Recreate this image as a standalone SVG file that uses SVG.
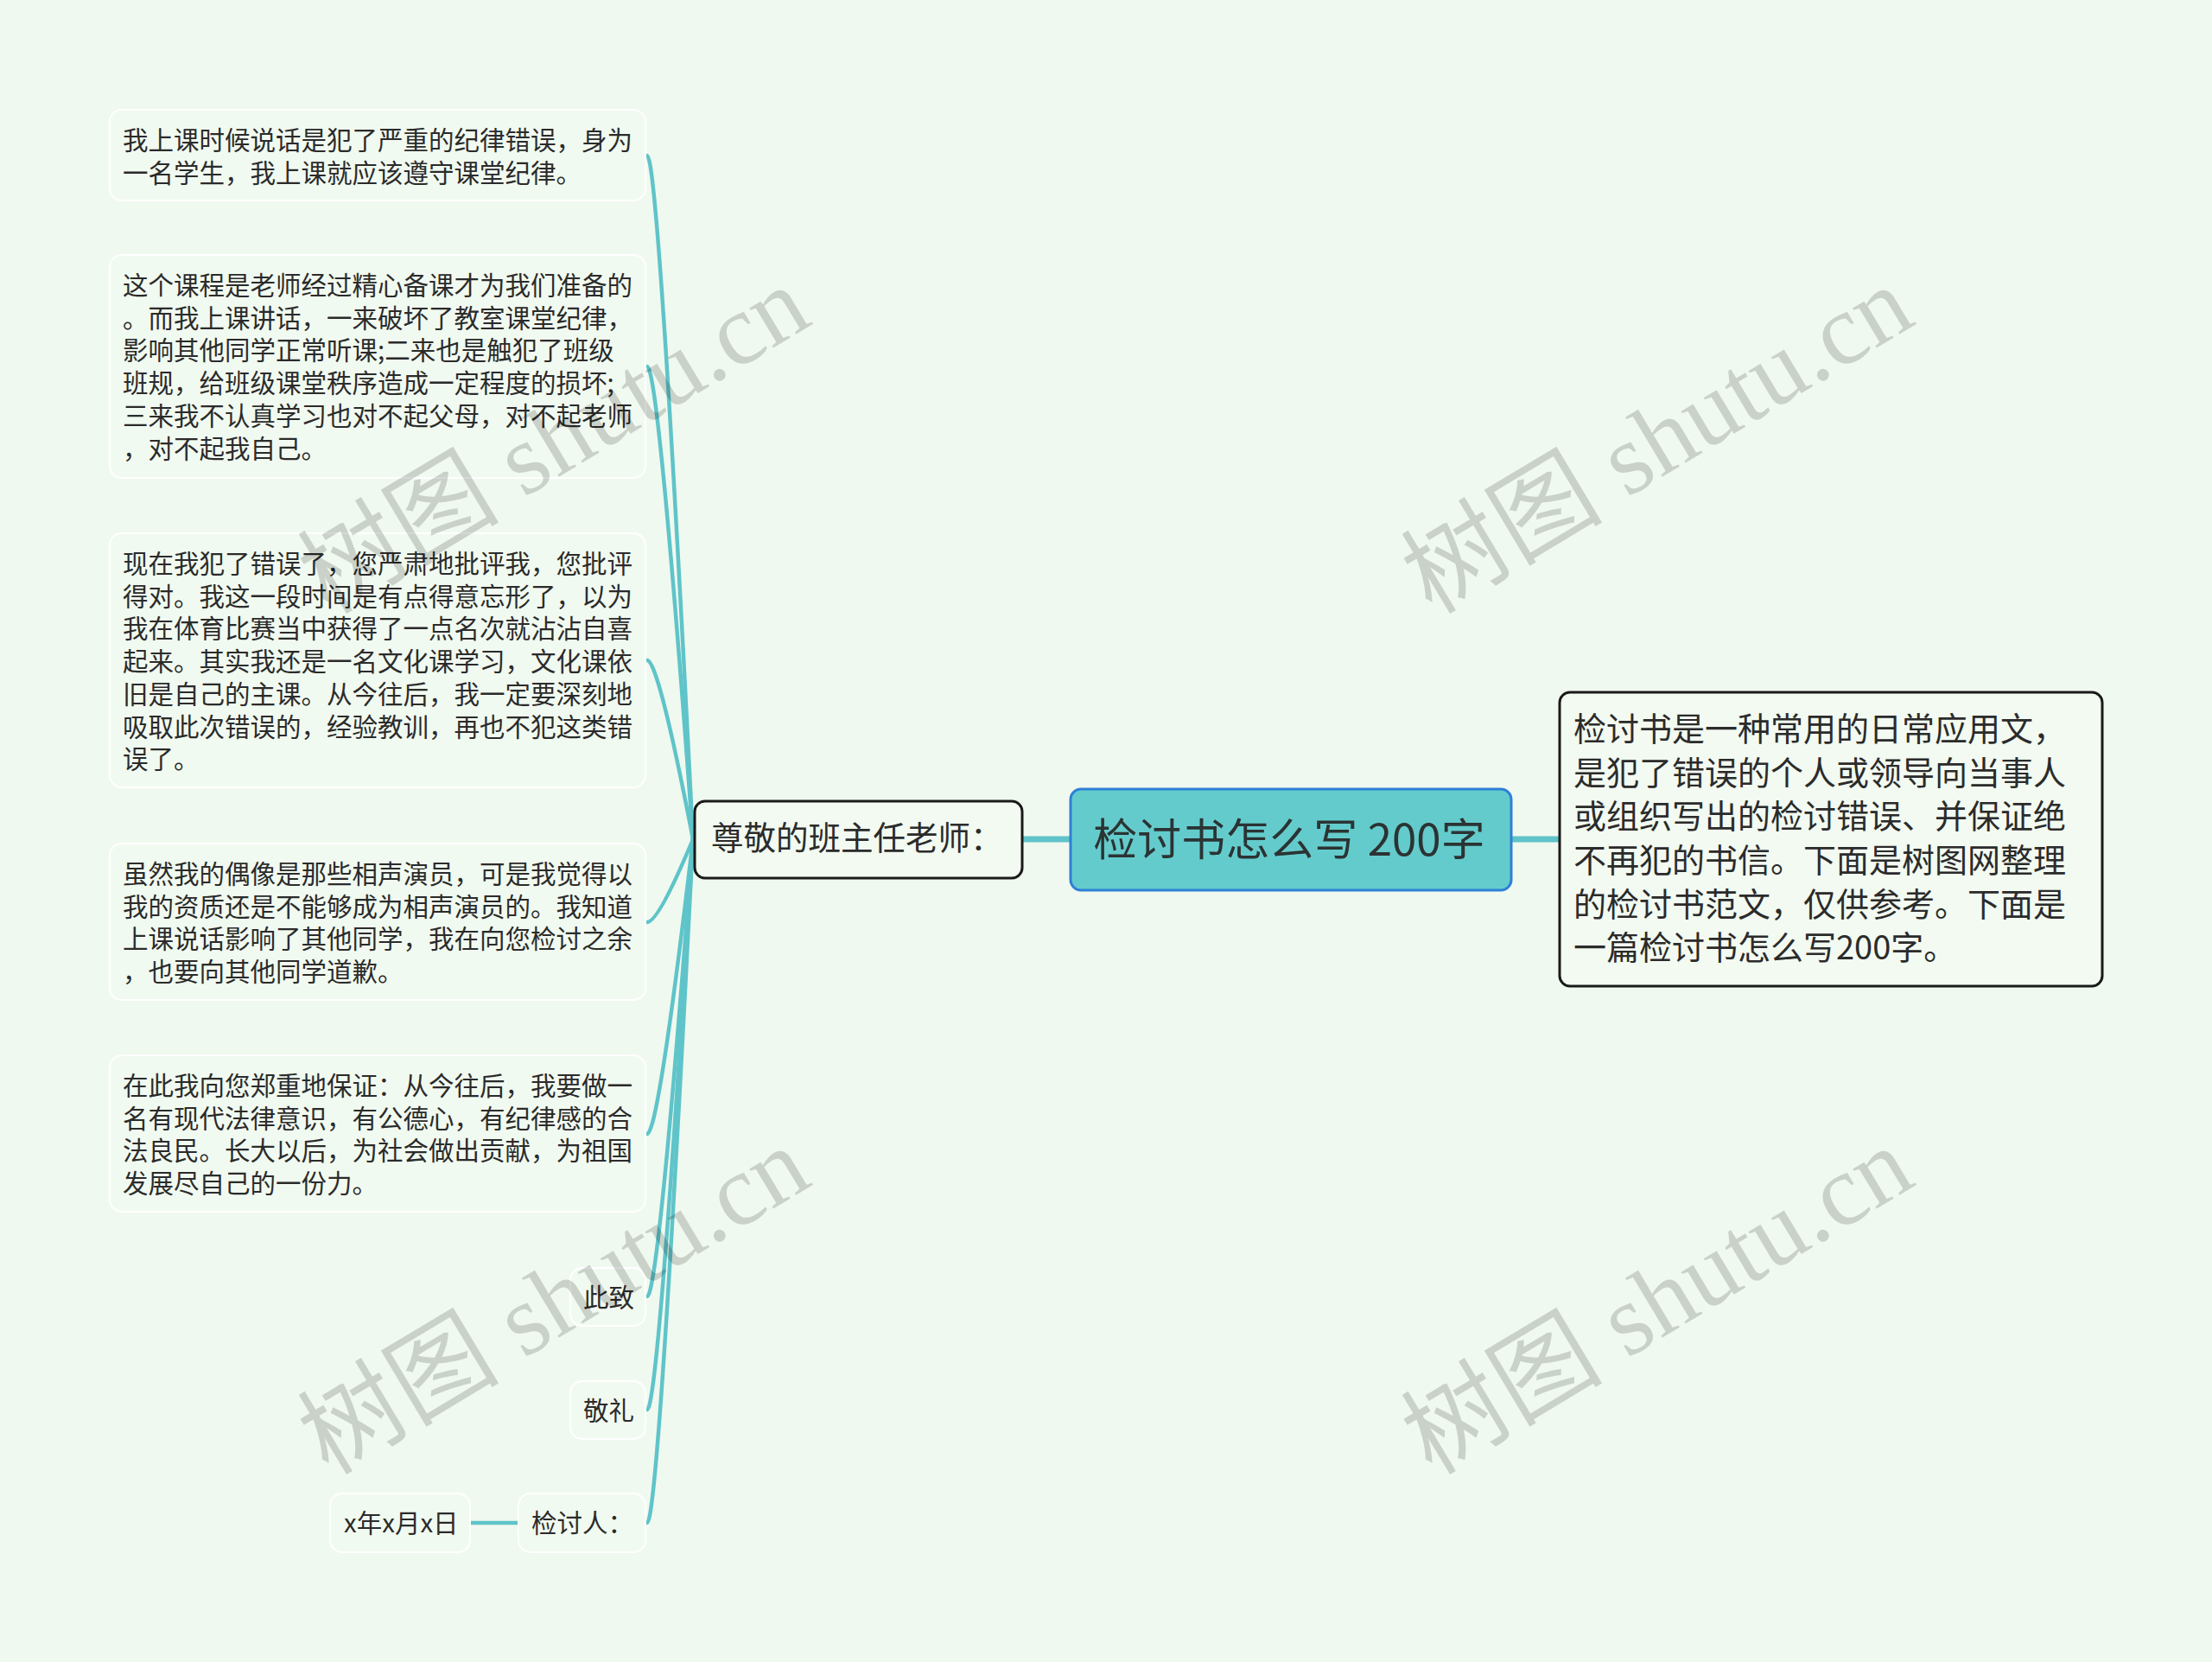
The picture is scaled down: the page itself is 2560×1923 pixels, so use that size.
<svg xmlns="http://www.w3.org/2000/svg" width="2560" height="1923" viewBox="0 0 2560 1923">
<style>
.leafbox{fill:#f1faf0;stroke:#ffffff;stroke-width:2}
.leaf{font-family:"Noto Sans CJK SC","Noto Sans",sans-serif;font-size:29.5px;fill:#2b2b2b}
.conn{fill:none;stroke:#5fc4c9;stroke-width:4.5;stroke-linecap:round}
.main{fill:none;stroke:#5fc4c9;stroke-width:7}
.wm{font-family:"Liberation Serif","Noto Sans CJK SC",serif;font-size:117px;fill:#000;fill-opacity:0.16}
</style>
<rect x="0" y="0" width="2560" height="1923" fill="#f0f9ef"/>
<g id="connectors">
<line class="main" x1="1183" y1="971" x2="1240" y2="971"/>
<line class="main" x1="1748" y1="971" x2="1806" y2="971"/>
<path class="conn" d="M802 971 Q762 180 749 180"/>
<path class="conn" d="M802 971 Q762 424 749 424"/>
<path class="conn" d="M802 971 Q762 764 749 764"/>
<path class="conn" d="M802 971 Q762 1067 749 1067"/>
<path class="conn" d="M802 971 Q762 1312 749 1312"/>
<path class="conn" d="M802 971 Q762 1500 749 1500"/>
<path class="conn" d="M802 971 Q762 1631 749 1631"/>
<path class="conn" d="M802 971 Q762 1762 749 1762"/>
<line class="conn" x1="544" y1="1762" x2="600" y2="1762" stroke-width="5"/>
</g>
<g id="central">
<rect x="1239" y="913" width="510" height="117" rx="12" fill="#64cbcc" stroke="#2f80d6" stroke-width="3"/>
<text x="1492" y="990" text-anchor="middle" font-family="Noto Sans CJK SC,Noto Sans,sans-serif" font-size="51" fill="#2b3333">检讨书怎么写 200字</text>
</g>
<g id="right">
<rect x="1805" y="801" width="628" height="340" rx="12" fill="#f2faf1" stroke="#1a1a1a" stroke-width="3"/>
<text font-family="Noto Sans CJK SC,Noto Sans,sans-serif" font-size="38" fill="#2b2b2b">
<tspan x="1821" y="857">检讨书是一种常用的日常应用文，</tspan>
<tspan x="1821" y="908">是犯了错误的个人或领导向当事人</tspan>
<tspan x="1821" y="958">或组织写出的检讨错误、并保证绝</tspan>
<tspan x="1821" y="1009">不再犯的书信。下面是树图网整理</tspan>
<tspan x="1821" y="1060">的检讨书范文，仅供参考。下面是</tspan>
<tspan x="1821" y="1110">一篇检讨书怎么写200字。</tspan>
</text>
</g>
<g id="teacher">
<rect x="804" y="927" width="379" height="89" rx="12" fill="#f2faf1" stroke="#1a1a1a" stroke-width="3"/>
<text x="823" y="983" font-family="Noto Sans CJK SC,Noto Sans,sans-serif" font-size="37.5" fill="#2b2b2b">尊敬的班主任老师：</text>
</g>
<g id="leaf1">
<rect class="leafbox" x="127" y="127" width="620" height="105" rx="14"/>
<text class="leaf"><tspan x="142" y="173">我上课时候说话是犯了严重的纪律错误，身为</tspan><tspan x="142" y="210.7">一名学生，我上课就应该遵守课堂纪律。</tspan></text>
</g>
<g id="leaf2">
<rect class="leafbox" x="127" y="295" width="620" height="258" rx="14"/>
<text class="leaf"><tspan x="142" y="341">这个课程是老师经过精心备课才为我们准备的</tspan><tspan x="142" y="378.7">。而我上课讲话，一来破坏了教室课堂纪律，</tspan><tspan x="142" y="416.4">影响其他同学正常听课;二来也是触犯了班级</tspan><tspan x="142" y="454.1">班规，给班级课堂秩序造成一定程度的损坏;</tspan><tspan x="142" y="491.8">三来我不认真学习也对不起父母，对不起老师</tspan><tspan x="142" y="529.5">，对不起我自己。</tspan></text>
</g>
<g id="leaf3">
<rect class="leafbox" x="127" y="617" width="620" height="294" rx="14"/>
<text class="leaf"><tspan x="142" y="663">现在我犯了错误了，您严肃地批评我，您批评</tspan><tspan x="142" y="700.7">得对。我这一段时间是有点得意忘形了，以为</tspan><tspan x="142" y="738.4">我在体育比赛当中获得了一点名次就沾沾自喜</tspan><tspan x="142" y="776.1">起来。其实我还是一名文化课学习，文化课依</tspan><tspan x="142" y="813.8">旧是自己的主课。从今往后，我一定要深刻地</tspan><tspan x="142" y="851.5">吸取此次错误的，经验教训，再也不犯这类错</tspan><tspan x="142" y="889.2">误了。</tspan></text>
</g>
<g id="leaf4">
<rect class="leafbox" x="127" y="976" width="620" height="181" rx="14"/>
<text class="leaf"><tspan x="142" y="1022">虽然我的偶像是那些相声演员，可是我觉得以</tspan><tspan x="142" y="1059.7">我的资质还是不能够成为相声演员的。我知道</tspan><tspan x="142" y="1097.4">上课说话影响了其他同学，我在向您检讨之余</tspan><tspan x="142" y="1135.1">，也要向其他同学道歉。</tspan></text>
</g>
<g id="leaf5">
<rect class="leafbox" x="127" y="1221" width="620" height="181" rx="14"/>
<text class="leaf"><tspan x="142" y="1267">在此我向您郑重地保证：从今往后，我要做一</tspan><tspan x="142" y="1304.7">名有现代法律意识，有公德心，有纪律感的合</tspan><tspan x="142" y="1342.4">法良民。长大以后，为社会做出贡献，为祖国</tspan><tspan x="142" y="1380.1">发展尽自己的一份力。</tspan></text>
</g>
<g id="leaf6">
<rect class="leafbox" x="660" y="1467" width="87" height="67" rx="14"/>
<text class="leaf" x="675" y="1512">此致</text>
</g>
<g id="leaf7">
<rect class="leafbox" x="660" y="1598" width="87" height="67" rx="14"/>
<text class="leaf" x="675" y="1643">敬礼</text>
</g>
<g id="leaf8">
<rect class="leafbox" x="600" y="1728" width="147" height="68" rx="14"/>
<text class="leaf" x="615" y="1773">检讨人：</text>
</g>
<g id="leaf9">
<rect class="leafbox" x="382" y="1728" width="162" height="68" rx="14"/>
<text class="leaf" x="398" y="1773">x年x月x日</text>
</g>
<g id="watermarks">
<text class="wm" transform="translate(380 712) rotate(-31)">树图 shutu.cn</text>
<text class="wm" transform="translate(1657 712) rotate(-31)">树图 shutu.cn</text>
<text class="wm" transform="translate(380 1708) rotate(-31)">树图 shutu.cn</text>
<text class="wm" transform="translate(1657 1708) rotate(-31)">树图 shutu.cn</text>
</g>
</svg>
